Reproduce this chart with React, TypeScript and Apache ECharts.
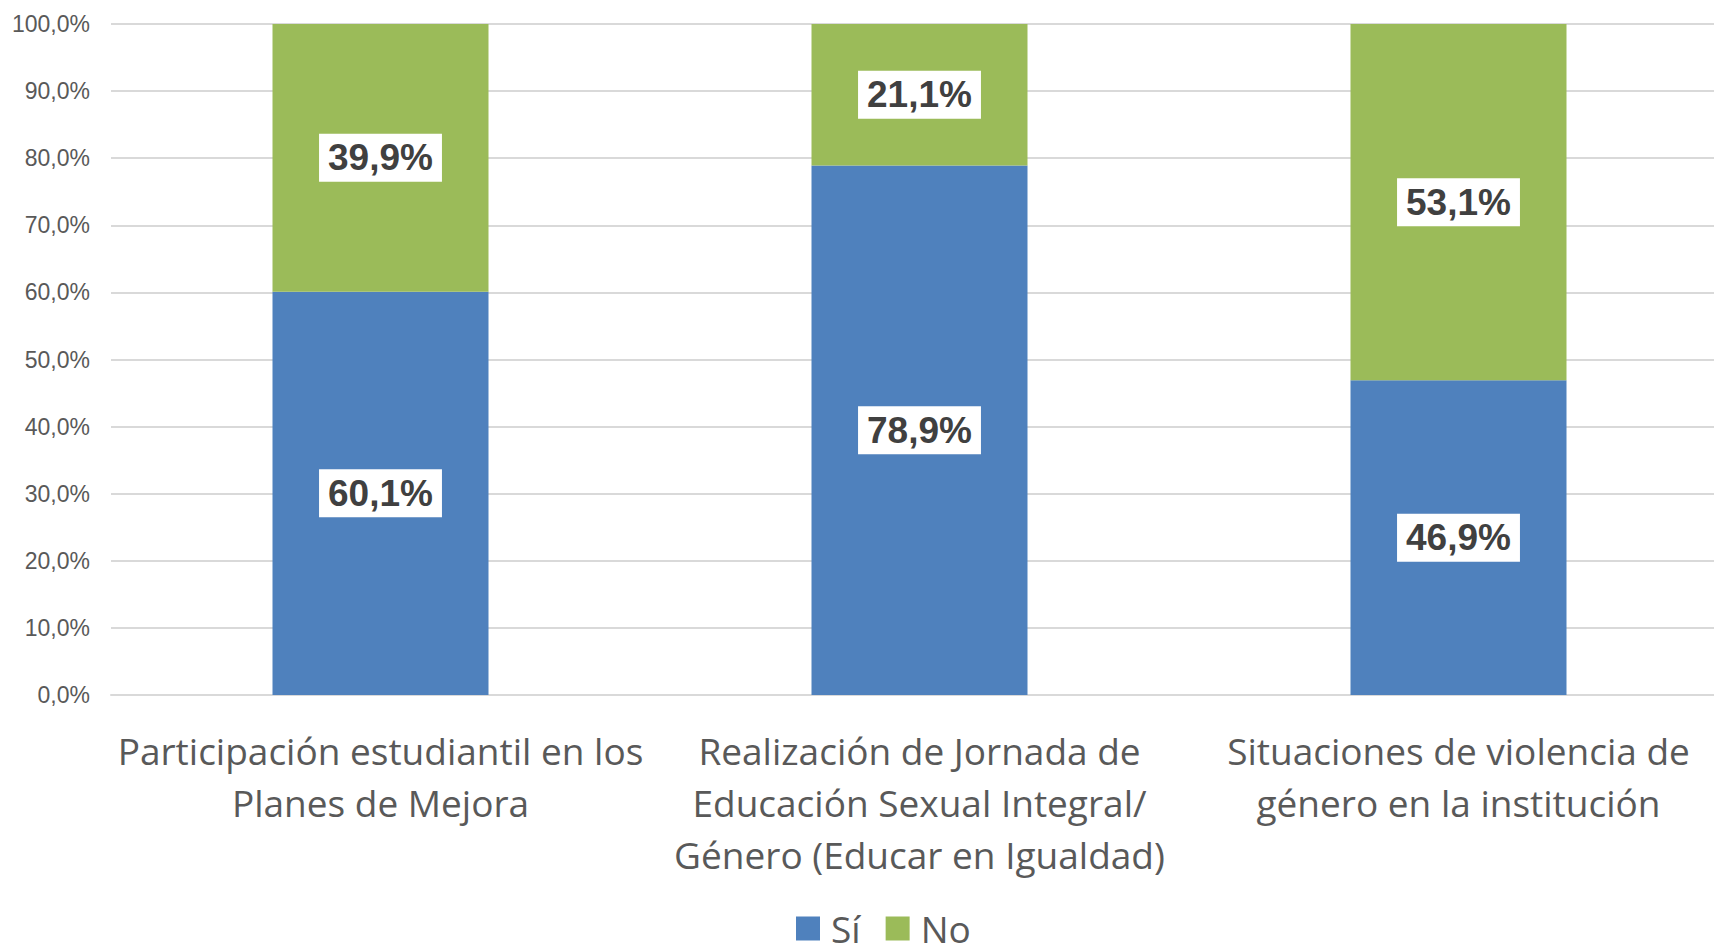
import React, { useEffect, useRef } from "react";
import * as echarts from "echarts";

const categories = [
  "Participación estudiantil en los\nPlanes de Mejora",
  "Realización de Jornada de\nEducación Sexual Integral/\nGénero (Educar en Igualdad)",
  "Situaciones de violencia de\ngénero en la institución",
];
const siValues = [60.1, 78.9, 46.9];
const noValues = [39.9, 21.1, 53.1];
const seriesNames = ["Sí", "No"];

const fmt = (v: number) => v.toFixed(1).replace(".", ",") + "%";

export default function App() {
  const ref = useRef<HTMLDivElement>(null);
  useEffect(() => {
    if (!ref.current) return;
    const chart = echarts.init(ref.current, null, { renderer: "svg" });
    const labelStyle = {
      show: true,
      position: "inside" as const,
      formatter: (p: any) => fmt(p.value),
      fontFamily: "Liberation Sans, Arial, sans-serif",
      fontWeight: "bold" as const,
      fontSize: 37,
      color: "#404040",
      backgroundColor: "#ffffff",
      padding: [6, 9, 5, 9],
    };
    chart.setOption({
      animation: false,
      backgroundColor: "#ffffff",
      grid: { left: 111, right: 0, top: 24, bottom: 249, containLabel: false },
      legend: {
        data: seriesNames,
        top: 910,
        left: 796,
        padding: 0,
        itemWidth: 24,
        itemHeight: 24,
        itemGap: 25,
        icon: "rect",
        textStyle: {
          fontFamily: "Open Sans, sans-serif",
          fontSize: 37,
          color: "#595959",
          padding: [0, 0, 0, 6],
        },
      },
      xAxis: {
        type: "category",
        data: categories,
        axisLine: { show: true, lineStyle: { color: "#d9d9d9", width: 2 } },
        axisTick: { show: false },
        axisLabel: {
          margin: 29,
          fontFamily: "Open Sans, sans-serif",
          fontSize: 37,
          lineHeight: 52,
          color: "#595959",
          interval: 0,
        },
      },
      yAxis: {
        type: "value",
        min: 0,
        max: 100,
        interval: 10,
        axisLine: { show: false },
        axisTick: { show: false },
        axisLabel: {
          formatter: (v: number) => fmt(v),
          fontFamily: "Liberation Sans, Arial, sans-serif",
          fontSize: 23,
          color: "#595959",
          margin: 21,
        },
        splitLine: { lineStyle: { color: "#d9d9d9", width: 2 } },
      },
      series: [
        {
          name: seriesNames[0],
          type: "bar",
          stack: "total",
          data: siValues,
          barWidth: 216,
          itemStyle: { color: "#4F81BD" },
          label: labelStyle,
        },
        {
          name: seriesNames[1],
          type: "bar",
          stack: "total",
          data: noValues,
          barWidth: 216,
          itemStyle: { color: "#9BBB59" },
          label: labelStyle,
        },
      ],
    });
    return () => chart.dispose();
  }, []);
  return (
    <div
      ref={ref}
      style={{ position: "fixed", left: 0, top: 0, width: 1728, height: 944 }}
    />
  );
}
